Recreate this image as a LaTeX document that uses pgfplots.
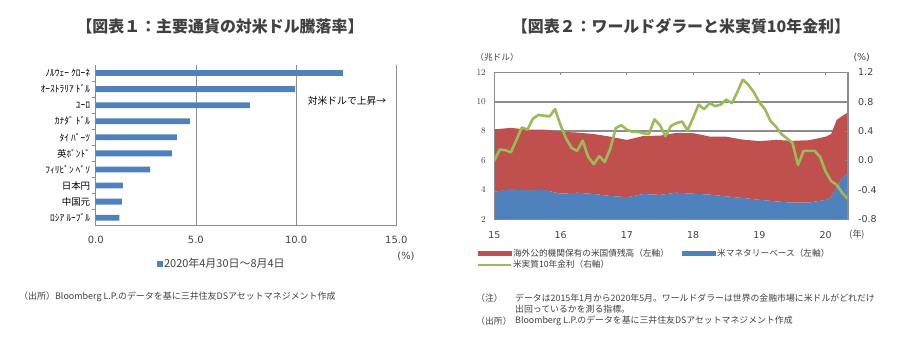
\documentclass[border=0pt]{standalone}
\usepackage{fontspec}
\usepackage{pgfplots}
\usepackage{pgfplotstable}
\pgfplotsset{compat=1.18}
\setmainfont{Noto Sans CJK JP}
\newfontfamily\numfont{DejaVu Sans}
\definecolor{barblue}{HTML}{4F81BD}
\definecolor{areared}{HTML}{C0504D}
\definecolor{lgreen}{HTML}{9BBB59}
\definecolor{txt}{HTML}{404040}
\definecolor{gridgray}{HTML}{8C8C8C}

\pgfplotstableread{
m  base  foreign
0  3.88  4.24
3  4.04  4.18
6  3.95  4.15
9  4.00  4.10
12 3.74  4.22
15 3.81  4.09
18 3.72  4.08
21 3.59  4.03
24 3.50  3.90
27 3.72  3.95
30 3.66  4.03
33 3.81  4.07
36 3.74  4.12
39 3.68  3.95
42 3.56  4.06
45 3.45  3.97
48 3.33  3.99
51 3.22  4.18
54 3.13  4.21
57 3.14  4.24
60 3.32  4.30
61 3.50  4.30
62 4.22  4.54
63 4.79  4.24
64 5.13  4.13
}\areadata

\pgfplotstableread{
m  r
0  0.00
1  0.15
2  0.14
3  0.11
4  0.28
5  0.45
6  0.42
7  0.57
8  0.62
9  0.61
10 0.60
11 0.70
12 0.48
13 0.30
14 0.17
15 0.13
16 0.27
17 0.05
18 -0.05
19 0.06
20 -0.02
21 0.16
22 0.44
23 0.48
24 0.42
25 0.39
26 0.39
27 0.37
28 0.36
29 0.56
30 0.48
31 0.33
32 0.47
33 0.51
34 0.53
35 0.41
36 0.58
37 0.76
38 0.70
39 0.78
40 0.74
41 0.76
42 0.83
43 0.78
44 0.93
45 1.10
46 1.03
47 0.93
48 0.79
49 0.70
50 0.54
51 0.46
52 0.36
53 0.30
54 0.24
55 -0.06
56 0.13
57 0.13
58 0.13
59 0.05
60 -0.15
61 -0.28
62 -0.33
63 -0.44
64 -0.52
}\realdata

\begin{document}
\begin{tikzpicture}
\useasboundingbox (0bp,0bp) rectangle (904bp,-355bp);

% ---------- titles ----------
\node[font=\fontsize{16}{18}\selectfont\bfseries, text=txt] at (220bp,-26bp) {【図表１：主要通貨の対米ドル騰落率】};
\node[font=\fontsize{16}{18}\selectfont\bfseries, text=txt] at (681bp,-26bp) {【図表２：ワールドダラーと米実質10年金利】};

% ---------- left chart ----------
\begin{axis}[
  at={(95.7bp,-225.7bp)}, anchor=south west, scale only axis,
  width=300.6bp, height=160.7bp,
  xmin=0, xmax=15, ymin=0.5, ymax=10.5, y dir=reverse,
  xbar, bar width=5.8bp,
  axis x line*=bottom, axis y line*=left,
  axis line style={-, draw=gridgray, line width=0.8bp},
  xtick={0,5,10,15}, xticklabels={0.0,5.0,10.0,15.0},
  xmajorgrids, grid style={gridgray, line width=0.8bp},
  ytick={1,...,10},
  yticklabels={ﾉﾙｳｪｰ ｸﾛｰﾈ, ｵｰｽﾄﾗﾘｱ ﾄﾞﾙ, ﾕｰﾛ, ｶﾅﾀﾞ ﾄﾞﾙ, ﾀｲ ﾊﾞｰﾂ, 英ﾎﾟﾝﾄﾞ, ﾌｨﾘﾋﾟﾝ ﾍﾟｿ, 日本円, 中国元, ﾛｼｱ ﾙｰﾌﾞﾙ},
  major tick length=0pt,
  minor ytick={1.5,2.5,...,9.5}, minor tick length=4bp,
  tick align=outside, tick style={gridgray, line width=0.8bp},
  xticklabel style={font=\numfont\fontsize{10}{12}\selectfont, text=txt, yshift=-7bp},
  yticklabel style={font=\fontsize{9.5}{11}\selectfont, text=black, xshift=-2bp},
  legend style={at={(0.417,-0.238)}, anchor=center, draw=none, fill=none,
    font=\fontsize{11}{13}\selectfont, text=txt, inner sep=0pt,
    nodes={inner sep=1pt}},
  legend image code/.code={\fill[barblue] (0bp,-3.3bp) rectangle (6.6bp,3.3bp);},
]
\addplot[fill=barblue, draw=none] coordinates {
  (12.34,1) (9.95,2) (7.69,3) (4.70,4) (4.05,5)
  (3.80,6) (2.71,7) (1.36,8) (1.30,9) (1.18,10)};
\addlegendentry{2020年4月30日～8月4日}
\end{axis}

\node[font=\fontsize{9.8}{12}\selectfont, text=black] at (347bp,-100.7bp) {対米ドルで上昇→};
\node[font=\numfont\fontsize{10}{12}\selectfont, text=txt] at (406bp,-256bp) {(\%)};
\node[anchor=west, inner sep=0pt, font=\fontsize{9}{11}\selectfont, text=txt] at (19bp,-297bp) {（出所）Bloomberg L.P.のデータを基に三井住友DSアセットマネジメント作成};

% ---------- right chart: areas ----------
\begin{axis}[
  at={(494.3bp,-219.3bp)}, anchor=south west, scale only axis,
  width=353.4bp, height=147bp,
  xmin=0, xmax=64, ymin=2, ymax=12,
  stack plots=y,
  ytick={2,4,6,8,10,12},
  ymajorgrids, grid style={gridgray, line width=1.6bp},
  xtick={0,12,24,36,48,60}, xticklabels={15,16,17,18,19,20},
  axis line style={gridgray, line width=1.6bp},
  tick style={gridgray, line width=0.8bp}, tick align=inside, major tick length=3bp,
  ytick pos=left,
  xticklabel style={font=\numfont\fontsize{9.5}{11}\selectfont, text=txt, yshift=-9bp},
  yticklabel style={font=\numfont\fontsize{9.5}{11}\selectfont, text=txt, xshift=-5bp},
]
\addplot[fill=barblue, draw=none] table[x=m, y=base] {\areadata} \closedcycle;
\addplot[fill=areared, draw=none] table[x=m, y=foreign] {\areadata} \closedcycle;
\end{axis}

% ---------- right chart: real rate ----------
\begin{axis}[
  at={(494.3bp,-219.3bp)}, anchor=south west, scale only axis,
  width=353.4bp, height=147bp,
  xmin=0, xmax=64, ymin=-0.8, ymax=1.2,
  xtick=\empty,
  ytick={-0.8,-0.4,0,0.4,0.8,1.2},
  yticklabels={-0.8,-0.4,0.0,0.4,0.8,1.2},
  ytick pos=right, yticklabel pos=right,
  axis line style={gridgray, line width=1.6bp},
  tick style={gridgray, line width=0.8bp}, tick align=inside, major tick length=3bp,
  yticklabel style={font=\numfont\fontsize{9.5}{11}\selectfont, text=txt, xshift=7bp, anchor=west},
  legend columns=2, legend cell align=left,
  legend style={at={(-0.05,-0.19)}, anchor=north west, draw=none, fill=none,
    font=\fontsize{8.7}{10.5}\selectfont, text=txt, inner sep=0pt,
    nodes={inner sep=1.4bp},
    /tikz/every even column/.append style={column sep=12bp}},
]
\addlegendimage{legend image code/.code={\fill[areared] (0bp,-2.3bp) rectangle (33bp,2.3bp);}}
\addlegendentry{海外公的機関保有の米国債残高（左軸）}
\addlegendimage{legend image code/.code={\fill[barblue] (0bp,-2.3bp) rectangle (33bp,2.3bp);}}
\addlegendentry{米マネタリーベース（左軸）}
\addplot[lgreen, line width=2.6bp, line join=round, mark=none,
  legend image code/.code={\draw[lgreen, line width=1.8bp] (0bp,0bp) -- (33bp,0bp);}]
  table[x=m, y=r] {\realdata};
\addlegendentry{米実質10年金利（右軸）}
\end{axis}

\node[font=\fontsize{8.7}{10}\selectfont, text=txt] at (497bp,-57.7bp) {（兆ドル）};
\node[font=\numfont\fontsize{9.5}{11}\selectfont, text=txt] at (861.7bp,-57.7bp) {(\%)};
\node[font=\fontsize{9}{11}\selectfont, text=txt] at (857bp,-235bp) {(年)};

\node[anchor=west, inner sep=0pt, font=\fontsize{8.9}{10.5}\selectfont, text=txt] at (476bp,-297.7bp) {（注）};
\node[anchor=west, inner sep=0pt, font=\fontsize{8.9}{10.5}\selectfont, text=txt] at (515bp,-297.7bp) {データは2015年1月から2020年5月。ワールドダラーは世界の金融市場に米ドルがどれだけ};
\node[anchor=west, inner sep=0pt, font=\fontsize{8.9}{10.5}\selectfont, text=txt] at (515bp,-309.2bp) {出回っているかを測る指標。};
\node[anchor=west, inner sep=0pt, font=\fontsize{8.9}{10.5}\selectfont, text=txt] at (476bp,-320.7bp) {（出所）};
\node[anchor=west, inner sep=0pt, font=\fontsize{8.9}{10.5}\selectfont, text=txt] at (515bp,-320.7bp) {Bloomberg L.P.のデータを基に三井住友DSアセットマネジメント作成};
\end{tikzpicture}
\end{document}
